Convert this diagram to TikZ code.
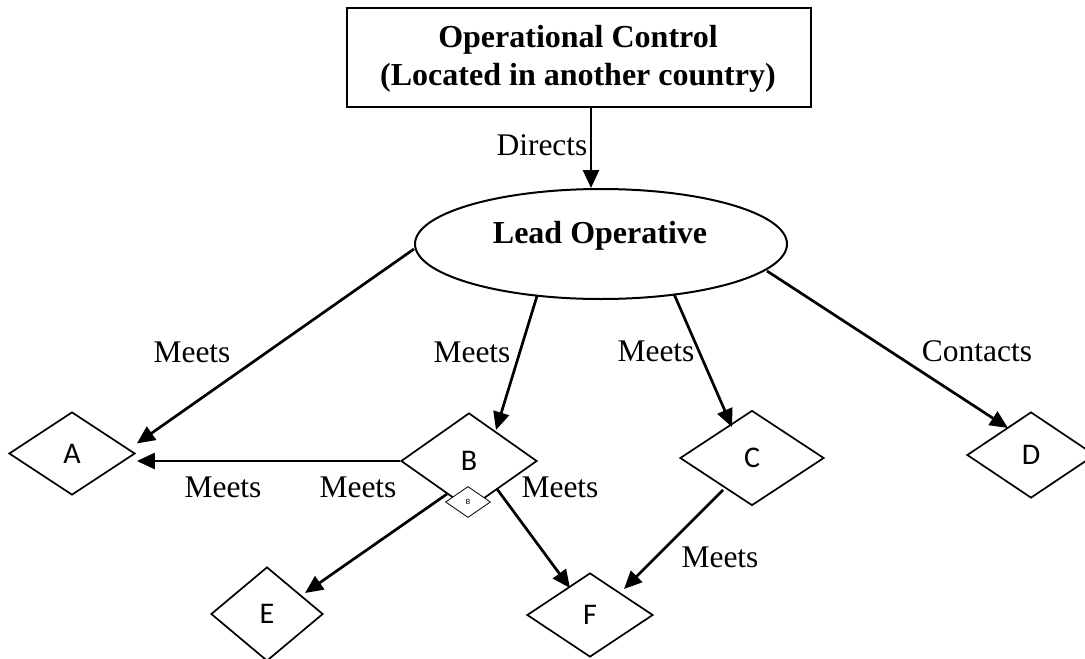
\documentclass[tikz,border=0pt]{standalone}
\usepackage{fontspec}
\setmainfont{Liberation Serif}
\newfontfamily\diafont{Carlito}
\usetikzlibrary{shapes.geometric,arrows.meta,calc}
\begin{document}
\begin{tikzpicture}[x=1pt,y=-1pt,
  lbl/.style={font=\fontsize{31.5}{38}\selectfont, anchor=base, inner sep=0pt},
  dia/.style={diamond, draw, line width=1.7pt, inner sep=0pt, font=\diafont\fontsize{30}{32}\selectfont},
  arr/.style={line width=2.7pt, -{Triangle[length=18pt,width=16pt]}}
]
\useasboundingbox (0,0) rectangle (1085,659);
% top box
\node[draw, line width=2pt, minimum width=464pt, minimum height=99pt, inner sep=0pt] (box) at (579,57.5) {};
\node[lbl, font=\bfseries\fontsize{32}{38}\selectfont] (t1) at (578,47) {Operational Control};
\node[lbl, font=\bfseries\fontsize{32}{38}\selectfont] (t2) at (578,85) {(Located in another country)};
% ellipse
\node[ellipse, draw, line width=2pt, minimum width=372pt, minimum height=110pt, inner sep=0pt] (lead) at (601,244) {};
\node[lbl, font=\bfseries\fontsize{32}{38}\selectfont] (leadt) at (600,243) {Lead Operative};
% diamonds
\node[dia, minimum width=126pt, minimum height=83pt] (A) at (72,453.5) {A};
\node[dia, minimum width=136pt, minimum height=96pt] (B) at (469,461) {B};
\node[dia, minimum width=144pt, minimum height=95pt] (C) at (752,458) {C};
\node[dia, minimum width=128pt, minimum height=86pt] (D) at (1031,455) {D};
\node[dia, minimum width=112pt, minimum height=94pt] (E) at (267,614) {E};
\node[dia, minimum width=126pt, minimum height=84pt] (F) at (590,615) {F};
\node[diamond, draw, fill=white, line width=0.8pt, inner sep=0pt, minimum width=45pt, minimum height=31pt, font=\diafont\fontsize{8}{9}\selectfont] (Bs) at (468,502) {B};
% connectors
\draw[arr] ($(box.south)+(12,0)$) -- ($(lead.north)+(-10,0)$);
\draw[arr] ($(lead.west)+(0,5)$) -- ($(A.east)+(1,-10)$);
\draw[arr] ($(lead.center)+(-64,52)$) -- ($(B.center)+(27,-31)$);
\draw[arr] ($(lead.center)+(73,50)$) -- ($(C.center)+(-20,-31)$);
\draw[arr] ($(lead.center)+(166,27)$) -- ($(D.center)+(-23,-27)$);
\draw[arr] (B.west) -- ($(B.west -| A.east)+(1,0)$);
\draw[arr] ($(B.center)+(-22,33)$) -- ($(E.center)+(38,-21)$);
\draw[arr] ($(B.center)+(28,28)$) -- ($(F.center)+(-20,-27)$);
\draw[arr] ($(C.center)+(-29,32)$) -- ($(F.center)+(34,-26)$);
% labels
\node[lbl] (l0) at (542,155) {Directs};
\node[lbl] (l1) at (192,362) {Meets};
\node[lbl] (l2) at (472,362) {Meets};
\node[lbl] (l3) at (656,361) {Meets};
\node[lbl] (l4) at (977,361) {Contacts};
\node[lbl] (l5) at (223,497) {Meets};
\node[lbl] (l6) at (358,497) {Meets};
\node[lbl] (l7) at (560,497) {Meets};
\node[lbl] (l8) at (720,567) {Meets};
\end{tikzpicture}
\end{document}
